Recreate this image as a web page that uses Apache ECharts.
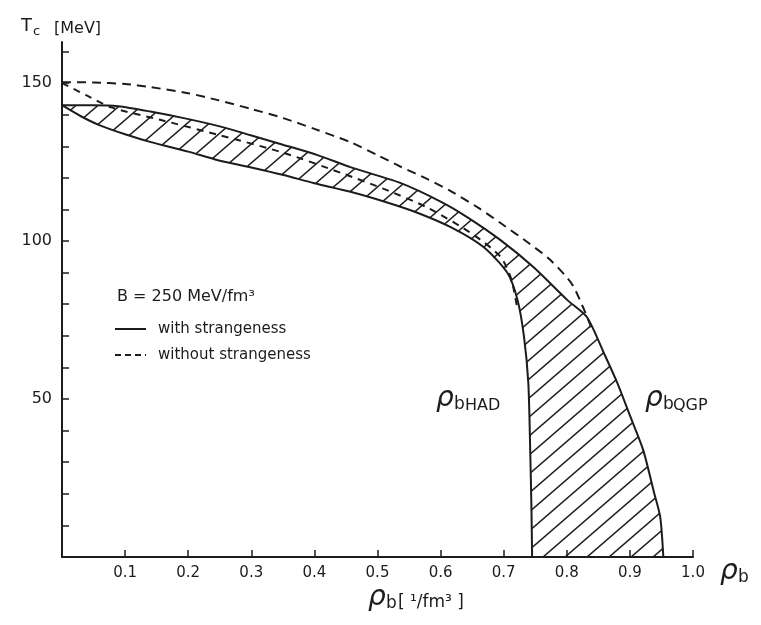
<!DOCTYPE html>
<html>
<head>
<meta charset="utf-8">
<script src="https://cdn.jsdelivr.net/npm/echarts@6/dist/echarts.min.js"></script>
<style>
html,body{margin:0;padding:0;background:#fff;}
#chart{width:761px;height:625px;}
</style>
</head>
<body>
<div id="chart"></div>
<script>
// ---- data ----
// rho_b QGP boundary, with strangeness (solid)
const rhoQGP_s = [0, 0.05, 0.089, 0.14, 0.193, 0.25, 0.299, 0.35, 0.405, 0.457, 0.536, 0.6, 0.642, 0.695, 0.747, 0.801, 0.832, 0.86, 0.88, 0.9, 0.921, 0.938, 0.948, 0.953];
const T_QGP_s   = [143, 143, 142.7, 141, 138.9, 136.3, 133.5, 130.5, 127.2, 123.4, 118.4, 112.5, 107.6, 100.3, 91.8, 81.3, 75.9, 64, 55.1, 44.8, 33.9, 20.6, 12.7, 0];
// rho_b HAD boundary, with strangeness (solid)
const rhoHAD_s = [0, 0.03, 0.059, 0.1, 0.141, 0.2, 0.247, 0.3, 0.351, 0.4, 0.457, 0.509, 0.56, 0.616, 0.668, 0.706, 0.722, 0.732, 0.739, 0.742, 0.744, 0.745];
const T_HAD_s   = [143, 139.5, 136.7, 133.8, 131.3, 128.3, 125.6, 123.3, 120.9, 118.3, 115.6, 112.6, 109.2, 104.4, 98.1, 89.9, 81.3, 70, 55.1, 33.9, 15, 0];
// QGP boundary without strangeness (dashed)
const rhoQGP_ns = [0, 0.05, 0.1, 0.141, 0.2, 0.247, 0.3, 0.351, 0.4, 0.457, 0.5, 0.536, 0.58, 0.616, 0.66, 0.695, 0.74, 0.774, 0.81, 0.842];
const T_QGP_ns   = [150.3, 150.2, 149.7, 148.7, 146.8, 144.6, 141.8, 138.9, 135.5, 131.3, 127.2, 123.6, 119.5, 115.8, 110.5, 105.7, 99.3, 94, 85.8, 71];
// HAD boundary without strangeness (dashed)
const rhoHAD_ns = [0, 0.04, 0.078, 0.157, 0.25, 0.35, 0.446, 0.51, 0.58, 0.652, 0.695, 0.712, 0.722];
const T_HAD_ns   = [150, 146, 142.3, 138.3, 133.5, 128, 121.3, 116.5, 110.5, 102, 95, 88, 78];

const xTicks = [0.1, 0.2, 0.3, 0.4, 0.5, 0.6, 0.7, 0.8, 0.9, 1.0];
const yTicks = [10, 20, 30, 40, 50, 60, 70, 80, 90, 100, 110, 120, 130, 140, 150, 160];
const yLabels = [50, 100, 150];

const zip = (xs, ys) => xs.map((x, i) => [x, ys[i]]);

// ---- hatch pattern ----
function makeHatch() {
  const w = 22, h = 19;
  const c = document.createElement('canvas');
  c.width = w; c.height = h;
  const ctx = c.getContext('2d');
  ctx.strokeStyle = '#1e1e1e';
  ctx.lineWidth = 1.5;
  for (let k = -1; k <= 1; k++) {
    ctx.beginPath();
    ctx.moveTo(k * w - w, 2 * h);
    ctx.lineTo(k * w + 2 * w, -h);
    ctx.stroke();
  }
  return c;
}
const hatch = { image: makeHatch(), repeat: 'repeat' };

const FF = '"DejaVu Sans", sans-serif';
const INK = '#1c1c1c';

const chart = echarts.init(document.getElementById('chart'), null, { renderer: 'canvas' });

function txt(x, y, text, size, opts) {
  opts = opts || {};
  return {
    type: 'text', x: x, y: y, silent: true,
    style: {
      text: text,
      font: (opts.italic ? 'italic ' : '') + (opts.weight || 'normal') + ' ' + size + 'px ' + FF,
      fill: INK,
      textAlign: opts.align || 'left',
      textVerticalAlign: 'middle'
    }
  };
}

const option = {
  animation: false,
  backgroundColor: '#fff',
  grid: { left: 62, right: 68, top: 42, bottom: 68 },
  xAxis: {
    type: 'value', min: 0, max: 1,
    axisLine: { lineStyle: { color: INK, width: 2 } },
    axisTick: { inside: true, length: 7, lineStyle: { color: INK, width: 1.5 }, customValues: xTicks },
    axisLabel: { customValues: xTicks, formatter: v => v.toFixed(1), fontSize: 15, color: INK, margin: 9, fontFamily: FF },
    splitLine: { show: false }
  },
  yAxis: {
    type: 'value', min: 0, max: 163,
    axisLine: { show: true, lineStyle: { color: INK, width: 2 } },
    axisTick: { show: true, inside: true, length: 7, lineStyle: { color: INK, width: 1.5 }, customValues: yTicks },
    axisLabel: { customValues: yLabels, fontSize: 16, color: INK, margin: 10, fontFamily: FF },
    splitLine: { show: false }
  },
  series: [
    {
      type: 'custom',
      coordinateSystem: 'cartesian2d',
      data: [[0, 0]],
      z: 1,
      silent: true,
      renderItem: function (params, api) {
        const pts = [];
        for (let i = 0; i < rhoQGP_s.length; i++) pts.push(api.coord([rhoQGP_s[i], T_QGP_s[i]]));
        for (let i = rhoHAD_s.length - 1; i >= 0; i--) pts.push(api.coord([rhoHAD_s[i], T_HAD_s[i]]));
        return { type: 'polygon', shape: { points: pts, smooth: 0 }, style: { fill: hatch, stroke: null } };
      }
    },
    {
      type: 'line', name: 'QGP with strangeness', data: zip(rhoQGP_s, T_QGP_s),
      showSymbol: false, symbol: 'none', smooth: 0.25, z: 3,
      lineStyle: { color: INK, width: 2 }
    },
    {
      type: 'line', name: 'HAD with strangeness', data: zip(rhoHAD_s, T_HAD_s),
      showSymbol: false, symbol: 'none', smooth: 0.25, z: 3,
      lineStyle: { color: INK, width: 2 }
    },
    {
      type: 'line', name: 'QGP without strangeness', data: zip(rhoQGP_ns, T_QGP_ns),
      showSymbol: false, symbol: 'none', smooth: 0.25, z: 3,
      lineStyle: { color: INK, width: 2, type: [9, 6] }
    },
    {
      type: 'line', name: 'HAD without strangeness', data: zip(rhoHAD_ns, T_HAD_ns),
      showSymbol: false, symbol: 'none', smooth: 0.25, z: 3,
      lineStyle: { color: INK, width: 2, type: [7, 6] }
    }
  ],
  graphic: [
    // y-axis title
    txt(21, 26, 'T', 18),
    txt(33, 32, 'c', 13),
    txt(54, 29, '[MeV]', 16),
    // legend block
    txt(117, 297, 'B = 250 MeV/fm\u00B3', 16),
    { type: 'line', silent: true, shape: { x1: 115, y1: 329, x2: 146, y2: 329 }, style: { stroke: INK, lineWidth: 2 } },
    txt(158, 329, 'with strangeness', 15),
    { type: 'line', silent: true, shape: { x1: 115, y1: 355, x2: 146, y2: 355 }, style: { stroke: INK, lineWidth: 2, lineDash: [6, 4] } },
    txt(158, 355, 'without strangeness', 15),
    // curve labels
    txt(436, 399, '\u03C1', 28, { italic: true }),
    txt(454, 405, 'b', 17),
    txt(465, 406, 'HAD', 16),
    txt(645, 399, '\u03C1', 28, { italic: true }),
    txt(663, 405, 'b', 17),
    txt(673, 406, 'QGP', 16),
    // x-axis end label
    txt(720, 572, '\u03C1', 28, { italic: true }),
    txt(738, 578, 'b', 17),
    // x-axis title
    txt(368, 598, '\u03C1', 28, { italic: true }),
    txt(386, 604, 'b', 17),
    txt(398, 603, '[ \u00B9/fm\u00B3 ]', 17)
  ]
};
chart.setOption(option);
</script>
</body>
</html>
